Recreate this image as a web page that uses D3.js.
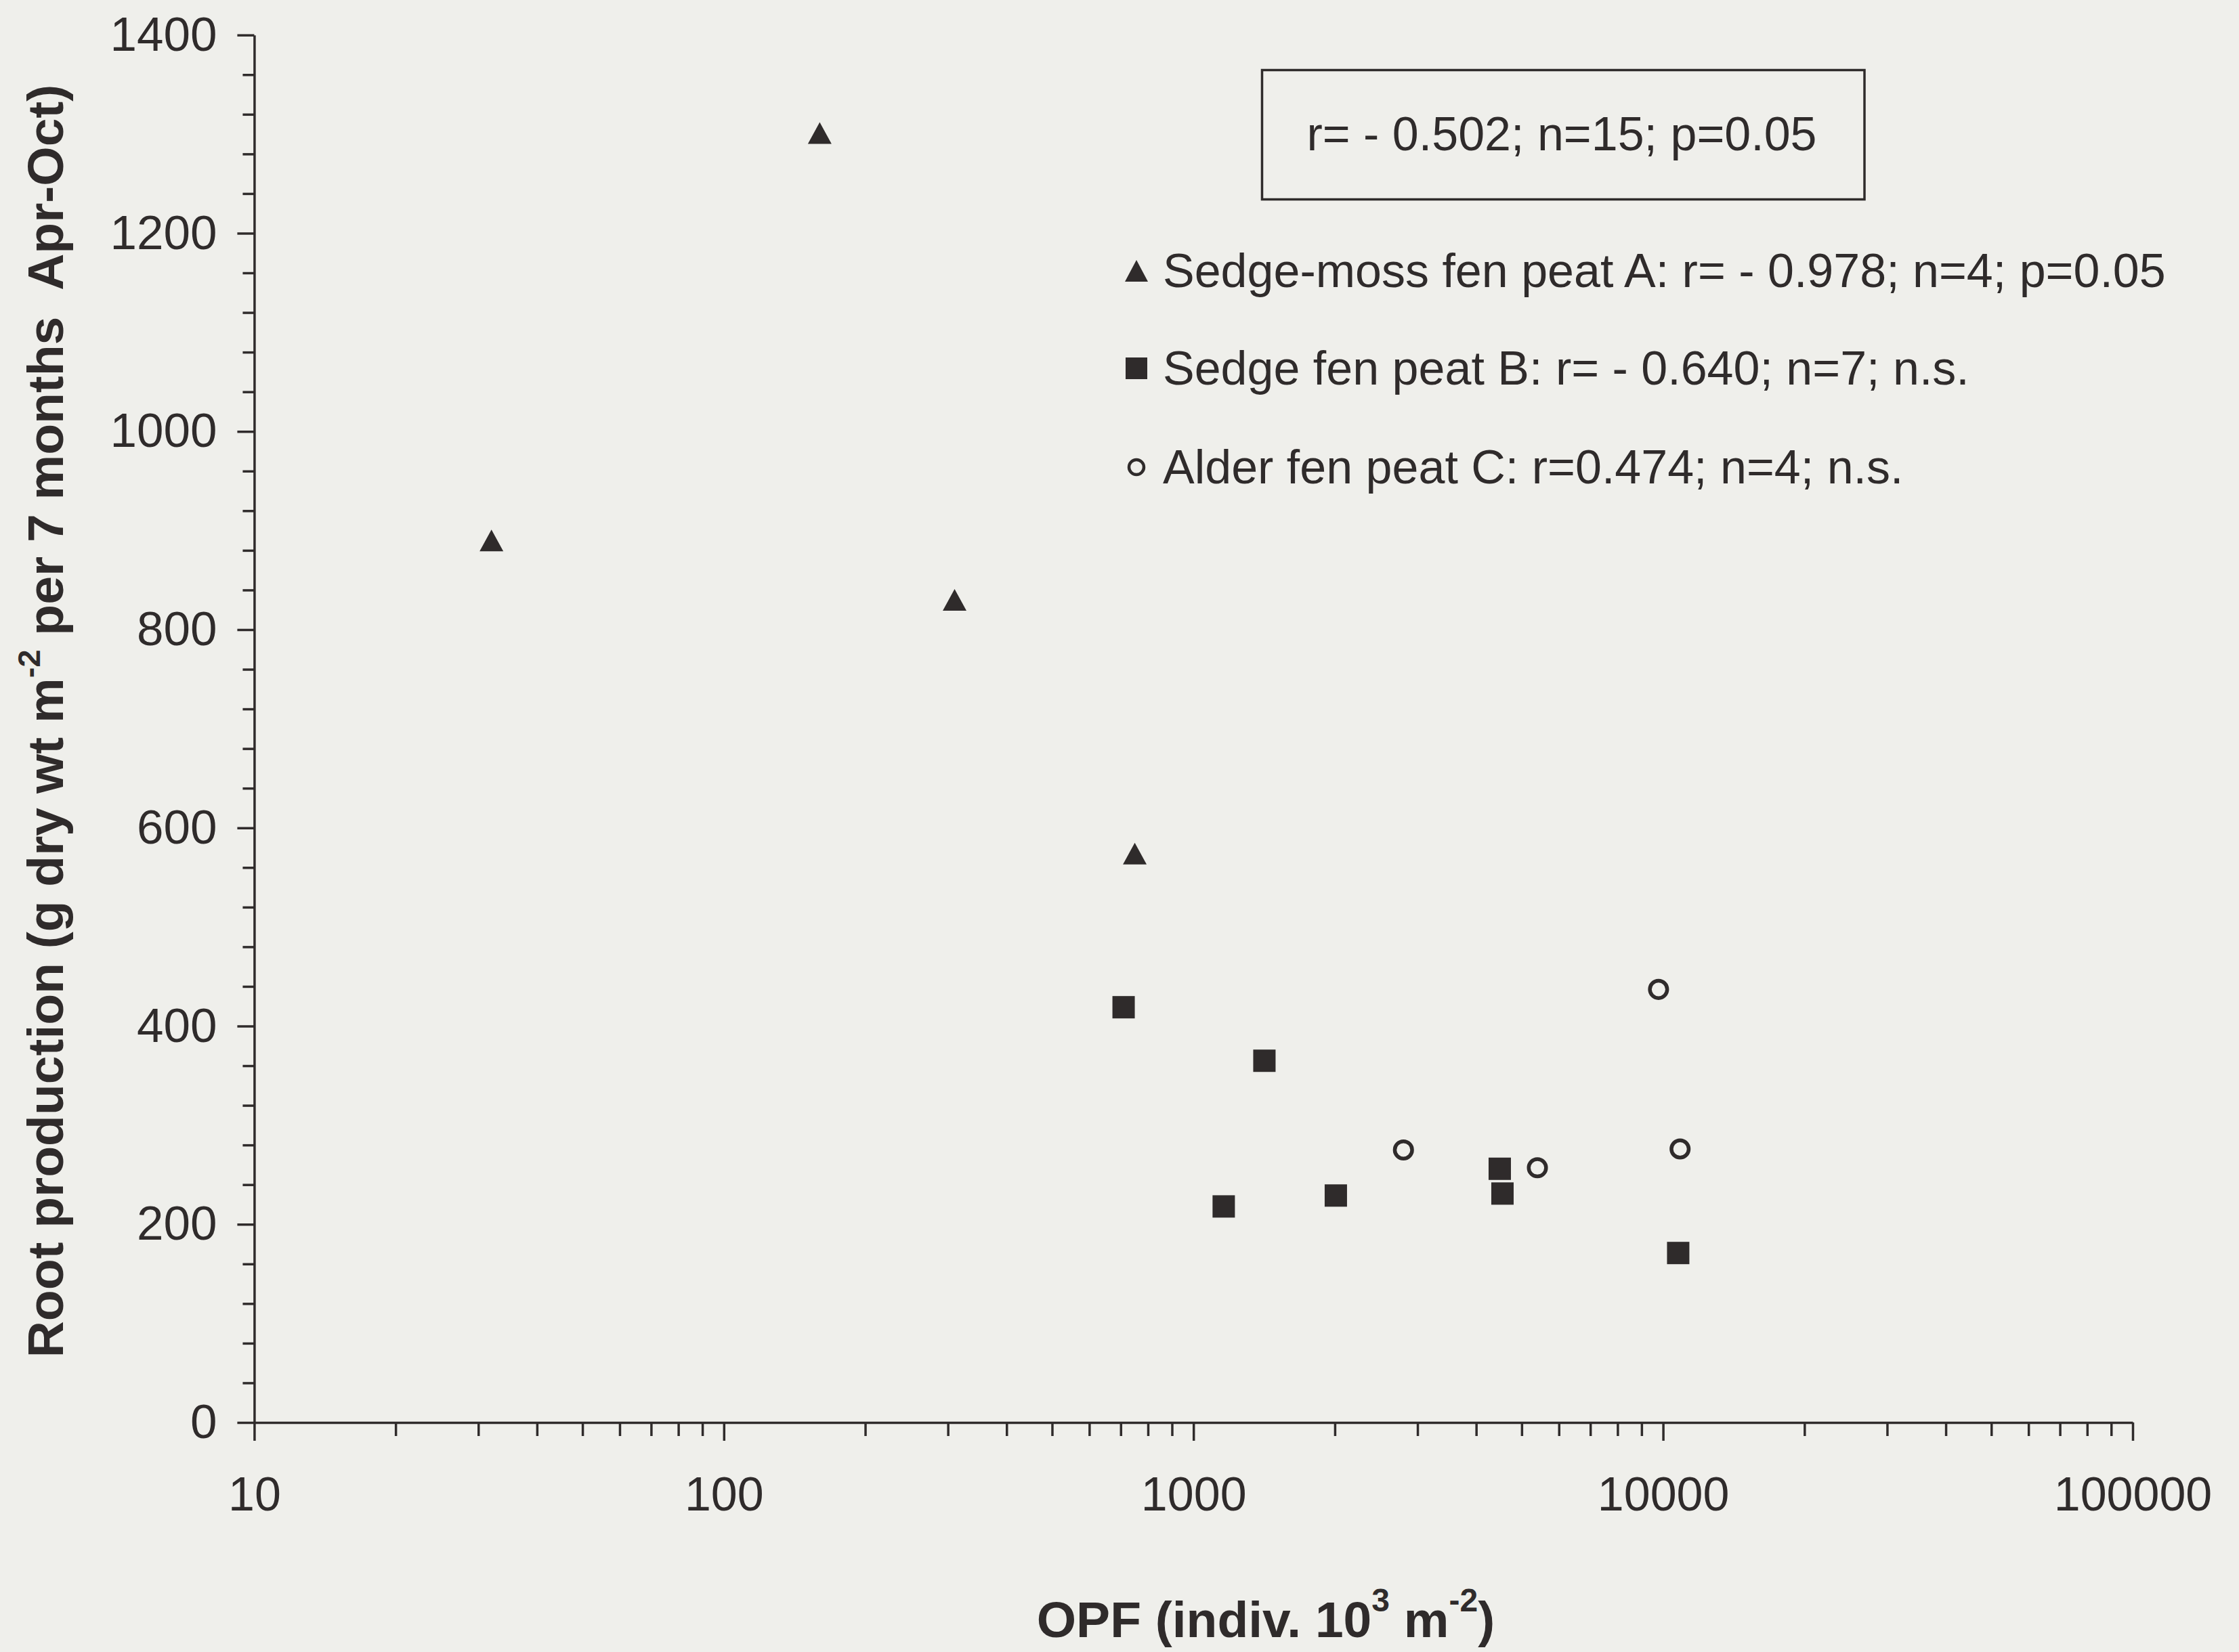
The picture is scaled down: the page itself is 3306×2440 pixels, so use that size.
<!DOCTYPE html>
<html>
<head>
<meta charset="utf-8">
<script src="https://cdn.jsdelivr.net/npm/d3@7"></script>
<style>
  html, body { margin: 0; padding: 0; background: #efefeb; }
  svg { display: block; }
  text { font-family: "Liberation Sans", Arial, Helvetica, sans-serif; fill: #2f2b2b; }
</style>
</head>
<body>
<div id="chart"></div>
<script>
// values (x = OPF, y = root production)
const sedgeMossX = [32, 160, 310, 750];
const sedgeMossY = [890, 1301, 830, 574];

const sedgeX = [710, 1416, 1160, 2010, 4490, 4550, 10770];
const sedgeY = [419, 365, 218, 229, 256, 231, 171];

const alderX = [2800, 5400, 9780, 10870];
const alderY = [275, 257, 437, 276];

const xMajorTicks = [10, 100, 1000, 10000, 100000];
const yMajorTicks = [0, 200, 400, 600, 800, 1000, 1200, 1400];

const legendLabels = [
  "Sedge-moss fen peat A: r= - 0.978; n=4; p=0.05",
  "Sedge fen peat B: r= - 0.640; n=7; n.s.",
  "Alder fen peat C: r=0.474; n=4; n.s."
];
const overallStat = "r= - 0.502; n=15; p=0.05";

const width = 3306;
const height = 2440;
const ink = "#2f2b2b";

const x = d3.scaleLog().domain([10, 100000]).range([375.4, 3149]);
const y = d3.scaleLinear().domain([0, 1400]).range([2101, 51.7]);

const svg = d3.select("#chart")
  .append("svg")
  .attr("width", width)
  .attr("height", height);

svg.append("rect")
  .attr("width", width)
  .attr("height", height)
  .attr("fill", "#efefeb");

// minor ticks first, majors with labels on top
const xMinor = d3.range(1, 5).flatMap(e => d3.range(2, 10).map(m => m * Math.pow(10, e)));
svg.append("g")
  .attr("transform", `translate(0,${y(0)})`)
  .call(d3.axisBottom(x).tickValues(xMinor).tickSize(20).tickSizeOuter(0).tickFormat(""))
  .call(g => g.select(".domain").remove());

const yMinor = d3.range(0, 1401, 40).filter(v => v % 200 !== 0);
svg.append("g")
  .attr("transform", `translate(${x(10)},0)`)
  .call(d3.axisLeft(y).tickValues(yMinor).tickSize(17).tickSizeOuter(0).tickFormat(""))
  .call(g => g.select(".domain").remove());

const xAxis = svg.append("g")
  .attr("transform", `translate(0,${y(0)})`)
  .call(d3.axisBottom(x).tickValues(xMajorTicks).tickSize(27).tickSizeOuter(0)
    .tickPadding(53).tickFormat(d3.format("d")));
xAxis.selectAll("text").attr("font-size", 70).style("font-family", null);

const yAxis = svg.append("g")
  .attr("transform", `translate(${x(10)},0)`)
  .call(d3.axisLeft(y).tickValues(yMajorTicks).tickSize(25).tickSizeOuter(0)
    .tickPadding(30).tickFormat(d3.format("d")));
yAxis.selectAll("text").attr("font-size", 71).style("font-family", null);

svg.selectAll(".domain, .tick line")
  .attr("stroke", ink)
  .attr("stroke-width", 3.5);
svg.selectAll(".tick text").attr("fill", ink);

// axis titles
const yTitle = svg.append("text")
  .attr("transform", "translate(93,1065) rotate(-90)")
  .attr("text-anchor", "middle")
  .attr("font-size", 75)
  .attr("font-weight", "bold")
  .style("white-space", "pre");
yTitle.append("tspan").text("Root production (g dry wt m");
yTitle.append("tspan").attr("font-size", 47).attr("dy", -34).text("-2");
yTitle.append("tspan").attr("dy", 34).text(" per 7 months  Apr-Oct)");

const xTitle = svg.append("text")
  .attr("x", 1869)
  .attr("y", 2418)
  .attr("text-anchor", "middle")
  .attr("font-size", 75)
  .attr("font-weight", "bold");
xTitle.append("tspan").text("OPF (indiv. 10");
xTitle.append("tspan").attr("font-size", 48).attr("dy", -38).text("3");
xTitle.append("tspan").attr("dy", 38).text(" m");
xTitle.append("tspan").attr("font-size", 48).attr("dy", -38).text("-2");
xTitle.append("tspan").attr("dy", 38).text(")");

// markers
const triangle = (w, h) => `M0,${-h / 2}L${w / 2},${h / 2}L${-w / 2},${h / 2}Z`;

svg.append("g")
  .selectAll("path")
  .data(d3.zip(sedgeMossX, sedgeMossY))
  .enter()
  .append("path")
  .attr("d", triangle(35, 32))
  .attr("transform", d => `translate(${x(d[0])},${y(d[1])})`)
  .attr("fill", ink);

svg.append("g")
  .selectAll("rect")
  .data(d3.zip(sedgeX, sedgeY))
  .enter()
  .append("rect")
  .attr("x", d => x(d[0]) - 16.5)
  .attr("y", d => y(d[1]) - 16.5)
  .attr("width", 33)
  .attr("height", 33)
  .attr("fill", ink);

svg.append("g")
  .selectAll("circle")
  .data(d3.zip(alderX, alderY))
  .enter()
  .append("circle")
  .attr("cx", d => x(d[0]))
  .attr("cy", d => y(d[1]))
  .attr("r", 12.8)
  .attr("fill", "none")
  .attr("stroke", ink)
  .attr("stroke-width", 5.5);

// stats box
svg.append("rect")
  .attr("x", 1863.5)
  .attr("y", 103.5)
  .attr("width", 889.5)
  .attr("height", 191)
  .attr("fill", "none")
  .attr("stroke", ink)
  .attr("stroke-width", 3.5);

svg.append("text")
  .attr("x", 2306)
  .attr("y", 222)
  .attr("text-anchor", "middle")
  .attr("font-size", 70)
  .text(overallStat);

// legend
const legend = svg.append("g").attr("transform", "translate(1678,0)");
const rowY = [424, 568, 714];

legend.selectAll("text")
  .data(legendLabels)
  .enter()
  .append("text")
  .attr("x", 39)
  .attr("y", (d, i) => rowY[i])
  .attr("font-size", 70)
  .text(d => d);

legend.append("path")
  .attr("d", triangle(34, 32))
  .attr("transform", `translate(0,${rowY[0] - 24})`)
  .attr("fill", ink);

legend.append("rect")
  .attr("x", -16)
  .attr("y", rowY[1] - 24 - 16)
  .attr("width", 32)
  .attr("height", 32)
  .attr("fill", ink);

legend.append("circle")
  .attr("cx", 0)
  .attr("cy", rowY[2] - 24)
  .attr("r", 11)
  .attr("fill", "none")
  .attr("stroke", ink)
  .attr("stroke-width", 4.5);
</script>
</body>
</html>
